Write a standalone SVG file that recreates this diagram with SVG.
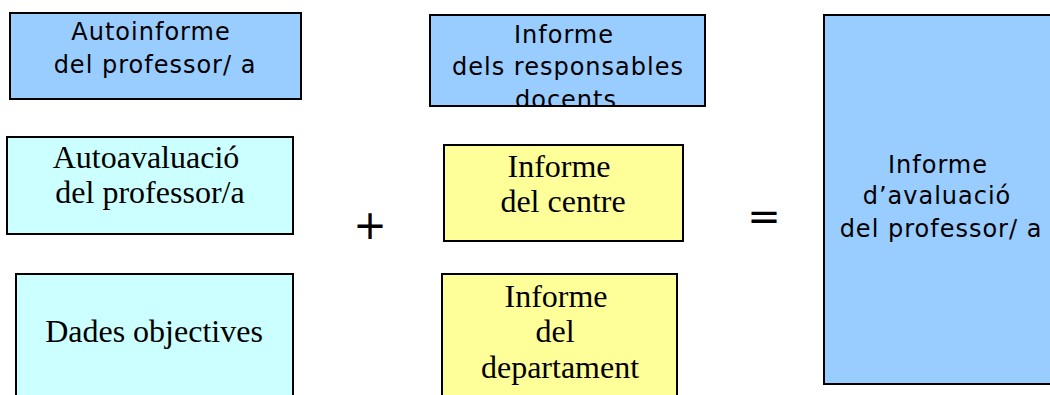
<svg xmlns="http://www.w3.org/2000/svg" width="1050" height="395" viewBox="0 0 1050 395">
<style>
.box{stroke:#000;stroke-width:2}
.blue{fill:#99CCFF}
.cyan{fill:#CCFFFF}
.yellow{fill:#FFFF99}
.sans{font-family:"DejaVu Sans",sans-serif;font-size:24px;letter-spacing:1px;fill:#000;text-anchor:middle}
.serif{font-family:"Liberation Serif","Times New Roman",serif;font-size:32px;fill:#000;text-anchor:middle}
.op{font-family:"DejaVu Sans",sans-serif;font-size:40px;fill:#000;text-anchor:middle}
</style>
<defs>
<clipPath id="c2"><rect x="431" y="16" width="273" height="89"/></clipPath>
</defs>
<g id="autoinforme">
<rect class="box blue" x="10" y="13" width="291" height="86"/>
<text class="sans" x="151" y="40">Autoinforme</text>
<text class="sans" x="155" y="73">del professor/ a</text>
</g>
<g id="informe-responsables">
<rect class="box blue" x="430" y="15" width="275" height="91"/>
<g clip-path="url(#c2)">
<text class="sans" x="564" y="43">Informe</text>
<text class="sans" x="568" y="75">dels responsables</text>
<text class="sans" x="566" y="108">docents</text>
</g>
</g>
<g id="autoavaluacio">
<rect class="box cyan" x="7" y="137" width="286" height="97"/>
<text class="serif" x="146" y="168">Autoavaluació</text>
<text class="serif" x="150" y="203">del professor/a</text>
</g>
<g id="dades">
<rect class="box cyan" x="16" y="274" width="277" height="130"/>
<text class="serif" x="154" y="342">Dades objectives</text>
</g>
<g id="plus">
<text class="op" x="370" y="239">+</text>
</g>
<g id="informe-centre">
<rect class="box yellow" x="444" y="145" width="239" height="96"/>
<text class="serif" x="559" y="177">Informe</text>
<text class="serif" x="563" y="212">del centre</text>
</g>
<g id="informe-departament">
<rect class="box yellow" x="442" y="274" width="235" height="130"/>
<text class="serif" x="556" y="307">Informe</text>
<text class="serif" x="555" y="342">del</text>
<text class="serif" x="560" y="378">departament</text>
</g>
<g id="equals">
<text class="op" x="764" y="230">=</text>
</g>
<g id="informe-avaluacio">
<rect class="box blue" x="824" y="15" width="240" height="369"/>
<text class="sans" x="938" y="173">Informe</text>
<text class="sans" x="937" y="204">d’avaluació</text>
<text class="sans" x="941" y="237">del professor/ a</text>
</g>
<g id="connectors"/>
</svg>
